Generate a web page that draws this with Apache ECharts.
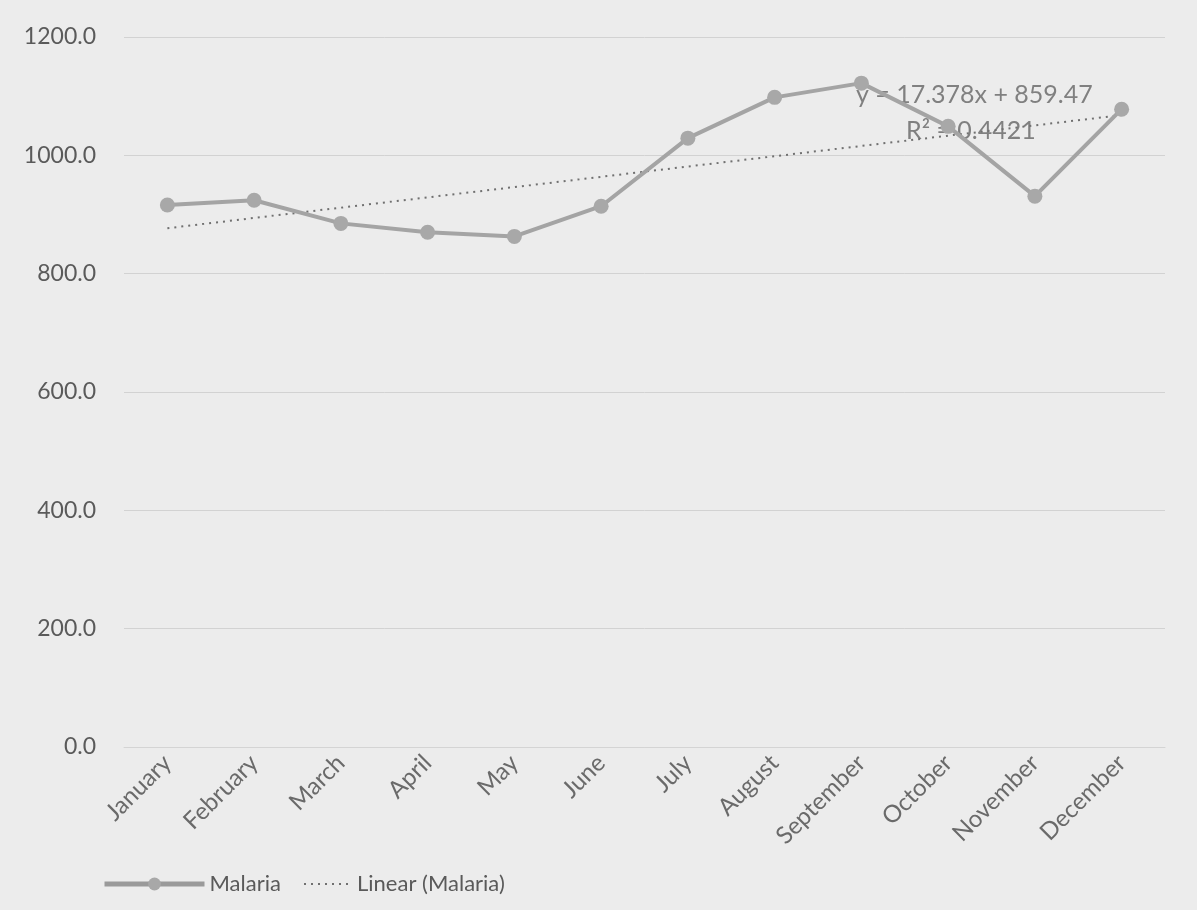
<!DOCTYPE html>
<html>
<head>
<meta charset="utf-8">
<script src="https://cdn.jsdelivr.net/npm/echarts@6/dist/echarts.min.js"></script>
<style>
html,body{margin:0;padding:0;background:#ececec;}
#chart{width:1197px;height:910px;}
</style>
</head>
<body>
<div id="chart"></div>
<script>
const months = ['January','February','March','April','May','June','July','August','September','October','November','December'];
const malaria = [916, 924, 885, 870, 863, 914, 1029, 1098, 1122, 1049, 931, 1078];
// Linear trend end values (Jan, Dec) as shown by y = 17.378x + 859.47
const trendEnds = [876.8, 1068.0];
const trendLabel = 'y = 17.378x + 859.47';
const r2Label = 'R² = 0.4421';
const yTicks = [0, 200, 400, 600, 800, 1000, 1200];

const trendData = months.map((m, i) => i === 0 ? trendEnds[0] : (i === months.length - 1 ? trendEnds[1] : null));

const chart = echarts.init(document.getElementById('chart'));
const font = 'Lato, "Open Sans", sans-serif';
const legendText = {color: '#5a5a5a', fontSize: 22, fontFamily: font};
chart.setOption({
  backgroundColor: '#ececec',
  textStyle: {fontFamily: font},
  grid: {left: 124, right: 32, top: 37, bottom: 163},
  xAxis: {
    type: 'category',
    data: months,
    boundaryGap: true,
    axisLine: {show: true, lineStyle: {color: '#d4d4d4'}},
    axisTick: {show: false},
    axisLabel: {rotate: 45, color: '#6a6a6a', fontSize: 24, fontFamily: font, margin: 12}
  },
  yAxis: {
    type: 'value',
    min: yTicks[0],
    max: yTicks[yTicks.length - 1],
    interval: 200,
    axisLine: {show: false},
    axisTick: {show: false},
    axisLabel: {color: '#5a5a5a', fontSize: 23, fontFamily: font, margin: 28,
      formatter: v => v.toFixed(1)},
    splitLine: {lineStyle: {color: '#d2d2d2', width: 1}}
  },
  legend: [
    {
      left: 97, bottom: 10,
      itemWidth: 100, itemHeight: 16,
      textStyle: legendText,
      data: [{name: 'Malaria', lineStyle: {width: 5, color: '#9a9a9a'}}]
    },
    {
      left: 298, bottom: 10,
      itemWidth: 48, itemHeight: 16,
      textStyle: legendText,
      data: [{name: 'Linear (Malaria)', itemStyle: {opacity: 0}}]
    }
  ],
  series: [
    {
      name: 'Malaria',
      type: 'line',
      data: malaria,
      symbol: 'circle',
      symbolSize: 15,
      lineStyle: {color: '#a4a4a4', width: 4},
      itemStyle: {color: '#a8a8a8'},
      z: 3
    },
    {
      name: 'Linear (Malaria)',
      type: 'line',
      data: trendData,
      connectNulls: true,
      showSymbol: false,
      symbol: 'none',
      lineStyle: {color: '#707070', width: 2, type: [2, 5]},
      itemStyle: {color: '#707070'},
      z: 2
    }
  ],
  graphic: [
    {type: 'text', left: 856, top: 82, style: {text: trendLabel, fontSize: 25, fill: '#808080', fontFamily: font}},
    {type: 'text', left: 906, top: 118, style: {text: r2Label, fontSize: 25, fill: '#808080', fontFamily: font}}
  ]
});
</script>
</body>
</html>
